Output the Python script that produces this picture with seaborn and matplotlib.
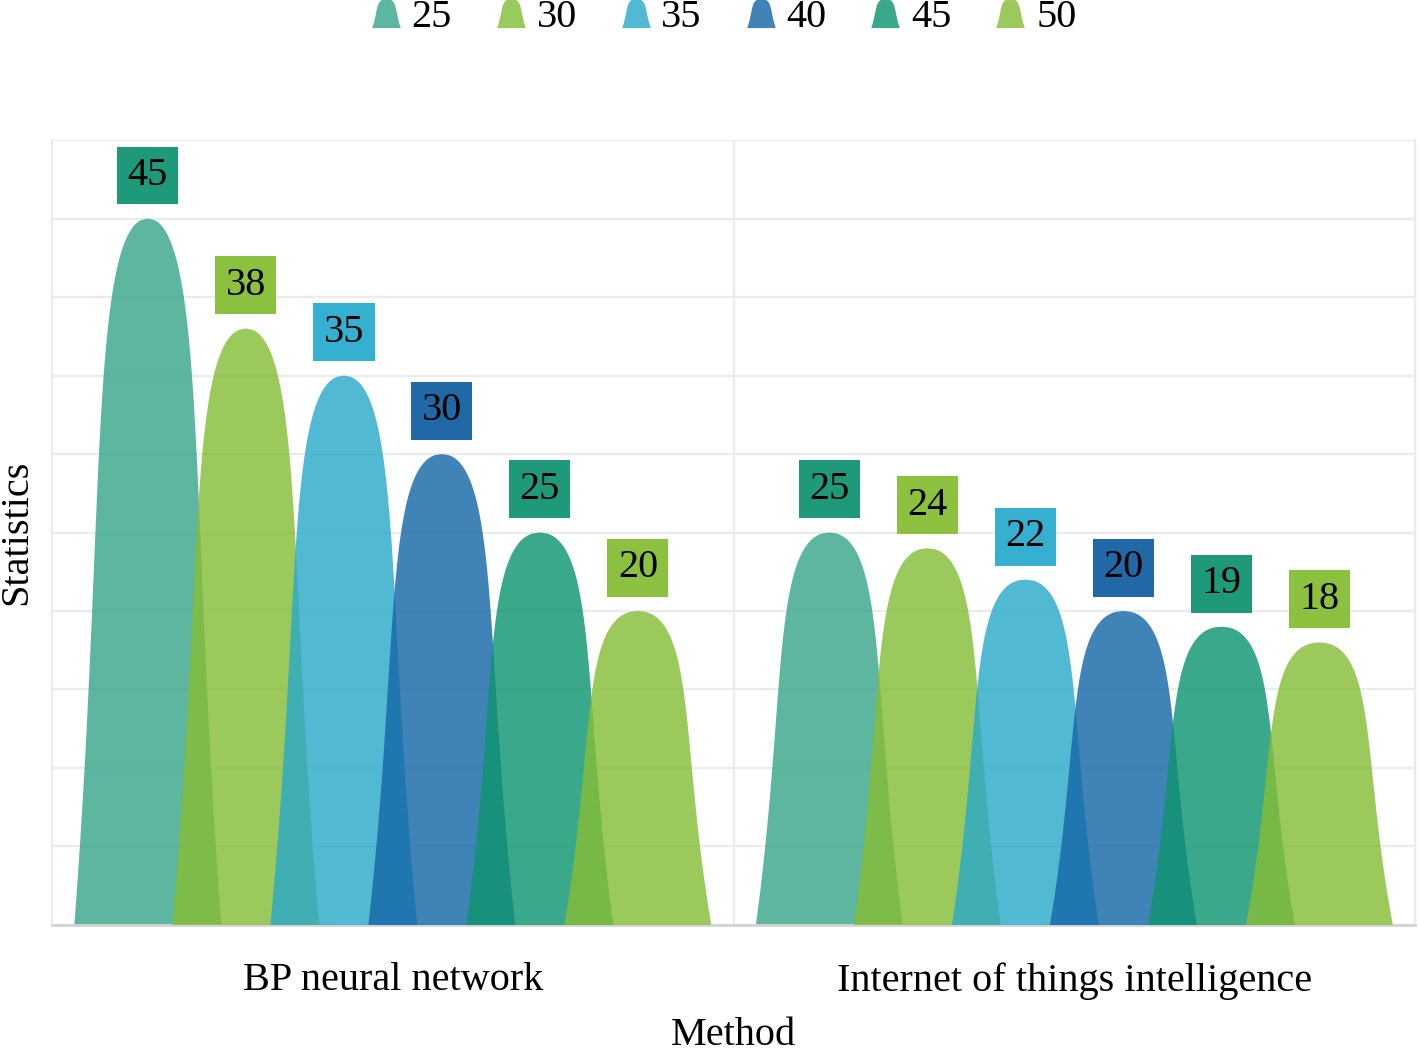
import numpy as np
import seaborn as sns
import matplotlib.pyplot as plt
from matplotlib.path import Path
from matplotlib.lines import Line2D

methods = ["BP neural network", "Internet of things intelligence"]
series = ["25", "30", "35", "40", "45", "50"]
bp_values = [45, 38, 35, 30, 25, 20]
iot_values = [25, 24, 22, 20, 19, 18]

# shape colours (drawn with alpha) and label box colours
fill_colors = ["#39a78b", "#85bd37", "#2caac9", "#1668a8", "#0f9570", "#85bd37"]
box_colors = ["#1e9a7a", "#8cc140", "#35b0d0", "#2169a6", "#1e9a7a", "#8cc140"]

sns.set_theme(style="white")
plt.rcParams["font.family"] = ["Liberation Serif", "DejaVu Serif"]
plt.rcParams["text.color"] = "black"
plt.rcParams["axes.labelcolor"] = "black"
plt.rcParams["xtick.color"] = "black"

ALPHA = 0.82
HALF_W = 0.11
STEP = 0.1438
FS = 29


def half_width(t):
    # normalised half width of the hump at relative height t (0 = base, 1 = top)
    s = np.clip(1 - t, 0, 1)
    return 1.997 * np.sqrt(s) - 1.749 * s + 0.732 * s ** 2


t = np.linspace(0, 1, 400)
hw = half_width(t)

fig = plt.figure(figsize=(14.18, 10.53), dpi=100)
ax = fig.add_axes([0.0367, 0.1216, 0.9613, 0.7454])

for gi, values in enumerate([bp_values, iot_values]):
    for si, val in enumerate(values):
        cx = gi + (si - 2.5) * STEP
        xs = np.concatenate([cx - hw * HALF_W, (cx + hw * HALF_W)[::-1]])
        ys = np.concatenate([t * val, (t * val)[::-1]])
        ax.fill(xs, ys, color=fill_colors[si], alpha=ALPHA, linewidth=0, zorder=2 + si)
        ax.annotate(str(val), (cx, val), xytext=(0, 31), textcoords="offset points",
                    ha="center", va="center", fontsize=FS, color="black", zorder=20,
                    bbox=dict(boxstyle="square,pad=0.26", fc=box_colors[si], ec="none"))

ax.set_xlim(-0.5, 1.5)
ax.set_ylim(0, 50)
ax.set_yticks(np.arange(0, 51, 5))
ax.set_yticklabels([])
ax.set_xticks([0, 1])
ax.set_xticklabels(methods, fontsize=FS)
ax.tick_params(axis="x", length=0, pad=27)
ax.tick_params(axis="y", length=0)
ax.grid(axis="y", color="#ebebeb", linewidth=1.6, zorder=0)
ax.axvline(0.5, color="#ebebeb", linewidth=1.6, zorder=1)
ax.set_axisbelow(True)
for side in ["right", "left"]:
    ax.spines[side].set_color("#ebebeb")
    ax.spines[side].set_linewidth(1.6)
ax.spines["top"].set_visible(False)
ax.spines["bottom"].set_color("#d4d4d4")
ax.spines["bottom"].set_linewidth(2)
ax.set_xlabel("Method", fontsize=FS, labelpad=12)
ax.set_ylabel("Statistics", fontsize=FS)
ax.yaxis.set_label_coords(-0.012, 0.5)

# hump-shaped legend marker
mt = np.linspace(0, 1, 40)
left = [(-half_width(v), 2 * v - 1) for v in mt]
right = [(half_width(v), 2 * v - 1) for v in mt[::-1]]
verts = left + right + [left[0]]
marker = Path(verts, [Path.MOVETO] + [Path.LINETO] * (len(verts) - 2) + [Path.CLOSEPOLY])
handles = [Line2D([], [], linestyle="none", marker=marker, markersize=21,
                  markerfacecolor=c, markeredgecolor="none", alpha=ALPHA)
           for c in fill_colors]
fig.legend(handles, series, loc="center", bbox_to_anchor=(0.5085, 0.983), ncol=6,
           frameon=False, fontsize=FS, handletextpad=0.14, columnspacing=0.96,
           handlelength=1.0)

plt.savefig("out.png", dpi=100)
plt.close()
